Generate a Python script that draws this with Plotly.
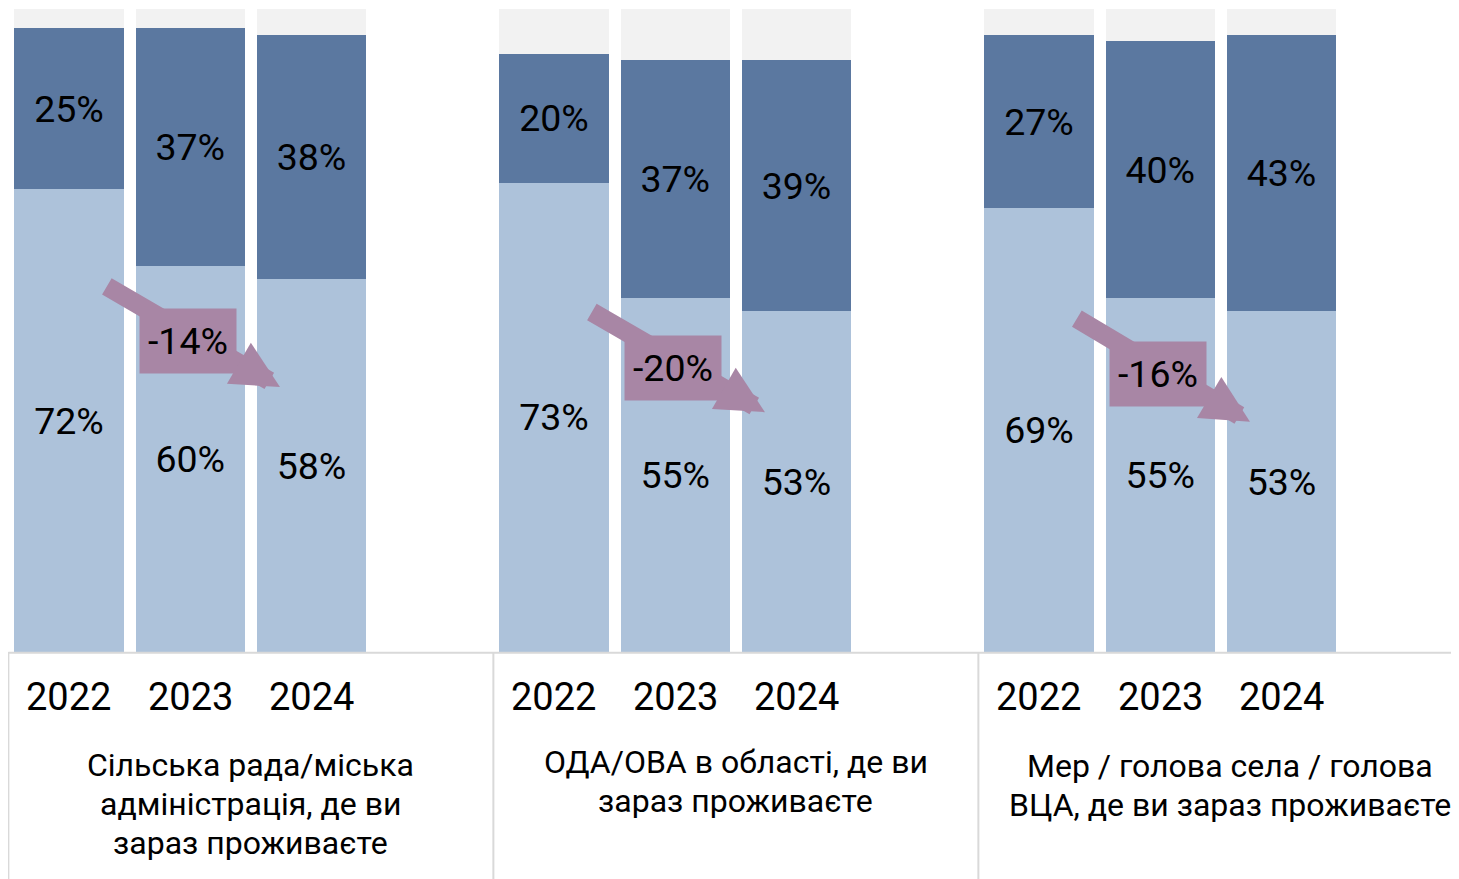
import plotly.graph_objects as go

# --- data ---
groups = [
    ["Сільська рада/міська", "адміністрація, де ви", "зараз проживаєте"],
    ["ОДА/ОВА в області, де ви", "зараз проживаєте"],
    ["Мер / голова села / голова", "ВЦА, де ви зараз проживаєте"],
]
years = ["2022", "2023", "2024"]
trust_light = [[72, 60, 58], [73, 55, 53], [69, 55, 53]]
trust_dark = [[25, 37, 38], [20, 37, 39], [27, 40, 43]]

# --- style ---
LIGHT = "#ADC2DA"
DARK = "#5B78A0"
REST = "#F2F2F2"
MAUVE = "#A886A5"
GRID = "#D9D9D9"
FONT = "Roboto"
GROUP_STEP = 4  # bar slots per group
PLOT_H = 643  # px height of plot area

# arrow placement (tail y, head y, box y) in % units, per group
arrow_pos = [(57, 41.2, 48.4), (53, 37.3, 44.2), (52, 35.8, 43.2)]
# first label line centre (px below plot bottom), per group
label_top = [113, 110, 114]
LINE_H = 39

xs, light, dark, rest = [], [], [], []
for g in range(len(groups)):
    for k in range(len(years)):
        xs.append(g * GROUP_STEP + k)
        light.append(trust_light[g][k])
        dark.append(trust_dark[g][k])
        rest.append(100 - trust_light[g][k] - trust_dark[g][k])

fig = go.Figure()
fig.add_trace(go.Bar(x=xs, y=light, marker_color=LIGHT, width=0.9,
                     text=[f"{v}%" for v in light], textposition="inside",
                     insidetextanchor="middle", textangle=0,
                     textfont=dict(size=37.5, color="black", family=FONT)))
fig.add_trace(go.Bar(x=xs, y=dark, marker_color=DARK, width=0.9,
                     text=[f"{v}%" for v in dark], textposition="inside",
                     insidetextanchor="middle", textangle=0,
                     textfont=dict(size=37.5, color="black", family=FONT)))
fig.add_trace(go.Bar(x=xs, y=rest, marker_color=REST, width=0.9,
                     hoverinfo="skip"))
fig.update_traces(marker_line_width=0)

annotations = []
shapes = []
for g in range(len(groups)):
    base = g * GROUP_STEP
    # year labels
    for k, yr in enumerate(years):
        annotations.append(dict(x=base + k, y=-0.07, xref="x", yref="paper",
                                text=yr, showarrow=False, yanchor="middle",
                                font=dict(size=38, color="black", family=FONT)))
    # group label, one annotation per line
    for i, line in enumerate(groups[g]):
        annotations.append(dict(x=base + 1.5, xref="x", yref="paper",
                                y=-(label_top[g] + i * LINE_H) / PLOT_H,
                                text=line, showarrow=False, yanchor="middle",
                                xshift=9 if g == 2 else 0,
                                font=dict(size=32, color="black", family=FONT)))
    # change arrow
    ty, hy, by = arrow_pos[g]
    annotations.append(dict(x=base + 1.74, y=hy, ax=base + 0.3, ay=ty,
                            xref="x", yref="y", axref="x", ayref="y",
                            text="", showarrow=True, arrowhead=2,
                            arrowsize=0.5, arrowwidth=19, arrowcolor=MAUVE))
    change = trust_light[g][2] - trust_light[g][0]
    annotations.append(dict(x=base + 0.98, y=by, xref="x", yref="y",
                            text=f"{change}%", showarrow=False,
                            bgcolor=MAUVE, width=94, height=62,
                            font=dict(size=37.5, color="black", family=FONT)))
    # table separators
    shapes.append(dict(type="line", xref="x", yref="paper",
                       x0=base - 0.5, x1=base - 0.5, y0=0, y1=-0.36,
                       line=dict(color=GRID, width=2)))

shapes.append(dict(type="line", xref="x", yref="paper", x0=-0.5, x1=12,
                   y0=-0.001, y1=-0.001, line=dict(color=GRID, width=2)))

fig.update_layout(
    barmode="stack",
    width=1451, height=871,
    margin=dict(l=0, r=0, t=1, b=227),
    paper_bgcolor="white", plot_bgcolor="white",
    showlegend=False,
    xaxis=dict(range=[-0.503, 11.464], visible=False, fixedrange=True),
    yaxis=dict(range=[0, 100], visible=False, fixedrange=True),
    annotations=annotations,
    shapes=shapes,
    font=dict(family=FONT),
)

fig.write_html("out.html")
